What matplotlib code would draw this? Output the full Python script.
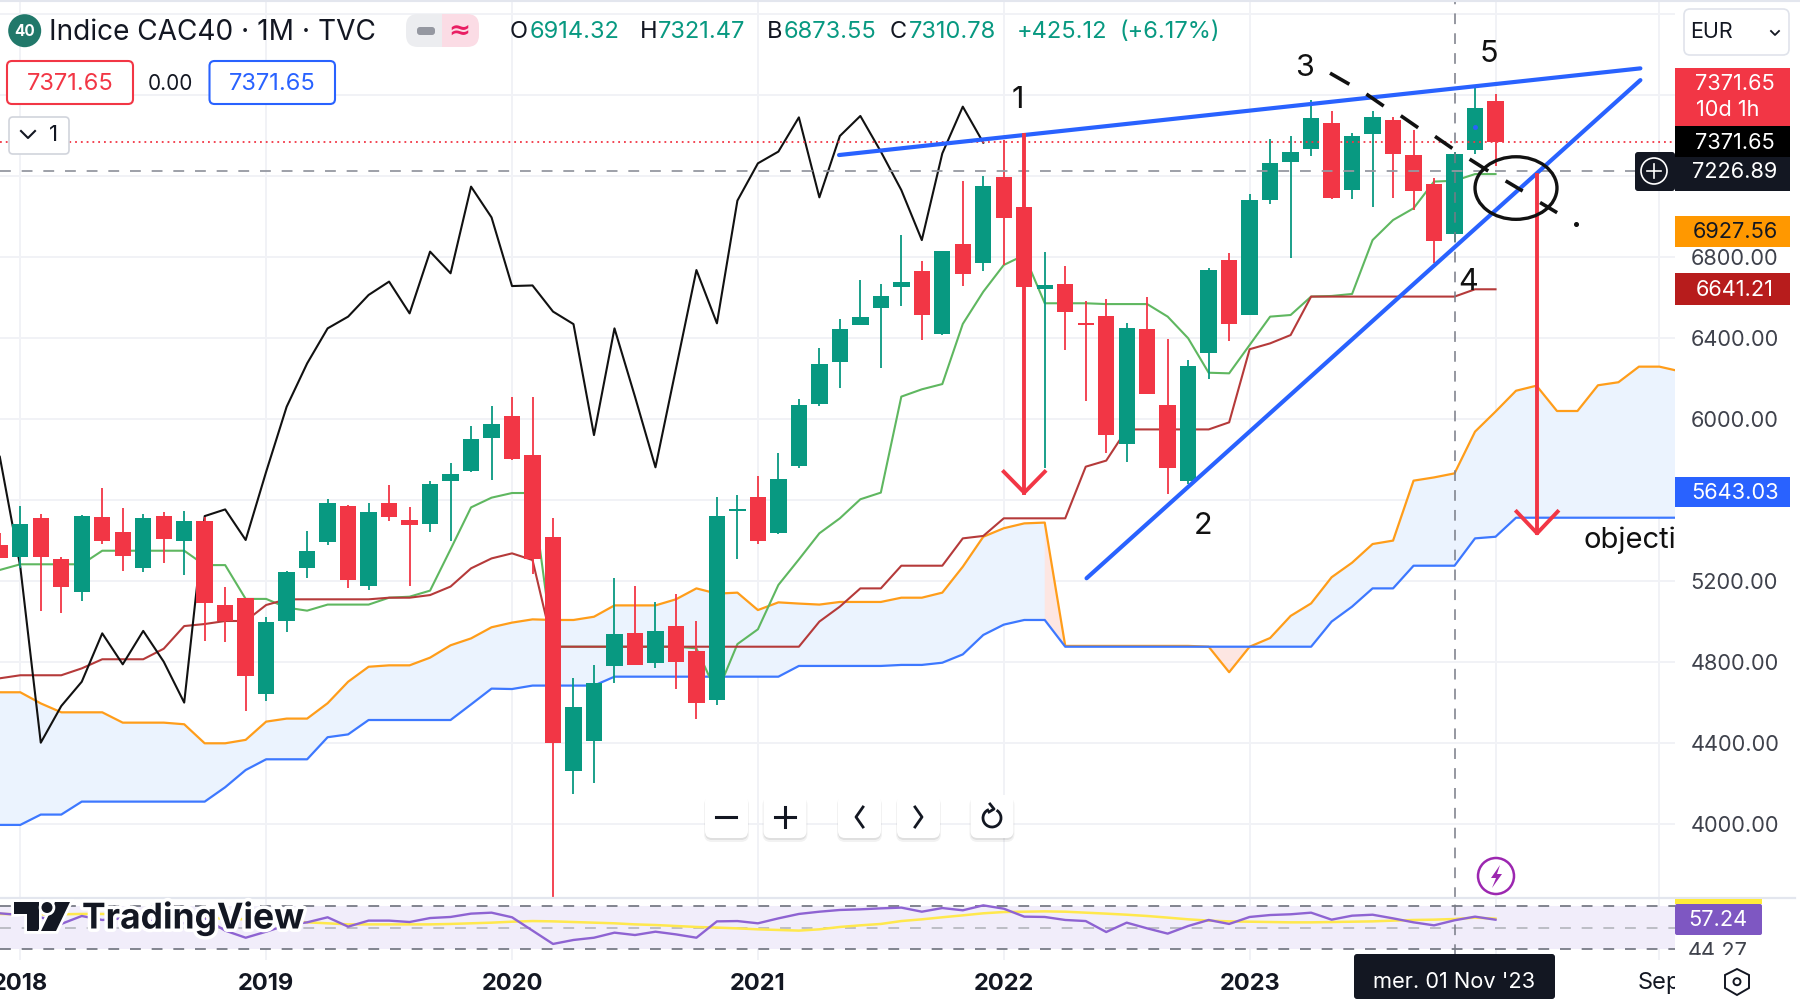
import numpy as np
import matplotlib
matplotlib.use('Agg')
import matplotlib.pyplot as plt
from matplotlib.patches import Ellipse, FancyBboxPatch, Rectangle, Circle, Polygon, Arc
import matplotlib.patheffects as pe

plt.rcParams['font.family'] = ['Inter', 'DejaVu Sans']

# months counted from jan 2018, first visible candle is dec 2017
first_month = -1
opens = [5379, 5322, 5511, 5310, 5147, 5516, 5442, 5266, 5521, 5397, 5498, 5081, 5118, 4644, 5006, 5266, 5394, 5570, 5175,
         5585, 5503, 5481, 5695, 5746, 5906, 6014, 5823, 5420, 4263, 4413, 4780, 4943, 4798, 4979, 4856, 4616, 5546, 5616,
         5440, 5770, 6076, 6281, 6464, 6548, 6653, 6734, 6420, 6866, 6772, 7195, 7048, 6644, 6670, 6474, 6508, 5876, 6444,
         6069, 5697, 6327, 6785, 6515, 7083, 7272, 7335, 7462, 7134, 7409, 7476, 7305, 7160, 6914.32, 7330, 7570]
highs = [5437, 5572, 5531, 5318, 5527, 5659, 5564, 5531, 5544, 5549, 5519, 5174, 5118, 5022, 5253, 5447, 5605, 5577, 5585,
         5676, 5565, 5697, 5783, 5969, 6065, 6112, 6112, 5511, 4724, 4787, 5218, 5177, 5100, 5136, 5004, 5616, 5626, 5722,
         5835, 6099, 6354, 6495, 6688, 6668, 6912, 6783, 6830, 7177, 7200, 7379, 7200, 6825, 6757, 6583, 6592, 6474, 6606,
         6395, 6293, 6746, 6823, 7114, 7383, 7397, 7577, 7521, 7415, 7521, 7491, 7430, 7190, 7321.47, 7634, 7605]
lows = [5314, 5264, 5055, 5042, 5103, 5384, 5251, 5246, 5292, 5230, 4904, 4899, 4560, 4611, 4950, 5215, 5378, 5165, 5155,
        5498, 5175, 5443, 5397, 5741, 5700, 5800, 5236, 3643, 4148, 4202, 4696, 4785, 4770, 4670, 4518, 4588, 5312, 5384,
        5434, 5758, 6067, 6153, 6464, 6255, 6561, 6392, 6415, 6658, 6731, 6762, 6500, 5761, 6342, 6090, 5832, 5788, 6124,
        5630, 5680, 6197, 6387, 6515, 7062, 6795, 7300, 7086, 7088, 7050, 7093, 7034, 6770, 6873.55, 7310, 7250]
closes = [5314, 5483, 5322, 5170, 5521, 5397, 5327, 5511, 5407, 5498, 5091, 5002, 4734, 4999, 5246, 5351, 5588, 5206, 5544,
          5519, 5480, 5681, 5732, 5904, 5977, 5804, 5312, 4400, 4578, 4700, 4938, 4785, 4953, 4803, 4597, 5521, 5555, 5399,
          5704, 6069, 6271, 6446, 6503, 6611, 6680, 6515, 6830, 6718, 7150, 6992, 6653, 6662, 6530, 6464, 5923, 6449, 6124,
          5761, 6265, 6739, 6469, 7081, 7264, 7318, 7490, 7093, 7397, 7495, 7312, 7129, 6882, 7310.78, 7539, 7368]

conversion = [5256, 5284, 5284, 5284, 5284, 5351, 5351, 5351, 5351, 5351, 5280, 5280, 5113, 5113, 5070, 5055, 5085, 5085, 5085,
              5119, 5124, 5154, 5358, 5565, 5613, 5636, 5636, 4877, 4877, 4877, 4877, 4877, 4877, 4877, 4869, 4647, 4890, 4963,
              5182, 5308, 5437, 5511, 5605, 5638, 6112, 6148, 6174, 6471, 6630, 6762, 6811, 6573, 6573, 6573, 6569, 6569, 6569,
              6507, 6400, 6230, 6227, 6367, 6507, 6515, 6606, 6609, 6619, 6885, 6984, 7042, 7174, 7178, 7211, 7211]
baseline = [4721, 4736, 4736, 4736, 4770, 4815, 4815, 4815, 4867, 4979, 4989, 5004, 5004, 5083, 5111, 5111, 5111, 5111, 5111,
            5119, 5119, 5132, 5174, 5264, 5313, 5338, 5305, 4877, 4877, 4877, 4877, 4877, 4877, 4877, 4877, 4877, 4877, 4877,
            4877, 4877, 5001, 5075, 5165, 5165, 5277, 5277, 5277, 5412, 5424, 5511, 5511, 5511, 5511, 5766, 5796, 5950, 5950,
            5950, 5950, 5950, 5985, 6346, 6375, 6416, 6606, 6606, 6606, 6606, 6606, 6606, 6606, 6606, 6642, 6642]
lagging = [5815, 5272, 4403, 4584, 4704, 4943, 4790, 4955, 4803, 4601, 5522, 5555, 5404, 5741, 6062, 6276, 6449, 6507, 6614,
           6680, 6523, 6828, 6721, 7149, 6997, 6658, 6661, 6532, 6470, 5922, 6449, 6112, 5763, 6250, 6737, 6474, 7080, 7264,
           7322, 7491, 7096, 7399, 7498, 7322, 7132, 6885, 7313, 7544, 7366]
lead_a = [4652, 4652, 4597, 4553, 4553, 4553, 4502, 4502, 4502, 4494, 4400, 4400, 4417, 4507, 4522, 4522, 4598, 4704, 4778,
          4785, 4785, 4823, 4884, 4918, 4973, 4996, 5012, 5009, 5009, 5025, 5081, 5081, 5081, 5111, 5165, 5139, 5144, 5058,
          5096, 5090, 5085, 5098, 5098, 5098, 5119, 5119, 5144, 5272, 5420, 5462, 5486, 5490, 4881, 4881, 4881, 4881, 4881,
          4881, 4881, 4877, 4751, 4877, 4920, 5029, 5091, 5220, 5292, 5384, 5401, 5697, 5713, 5733, 5939, 6038, 6141, 6166,
          6041, 6041, 6168, 6183, 6260, 6260, 6237]
lead_b = [3997, 3997, 4048, 4048, 4112, 4112, 4112, 4112, 4112, 4112, 4112, 4183, 4268, 4321, 4321, 4321, 4430, 4444, 4515,
          4515, 4515, 4515, 4515, 4592, 4670, 4668, 4685, 4685, 4685, 4685, 4729, 4729, 4729, 4729, 4729, 4729, 4729, 4729,
          4729, 4782, 4782, 4782, 4782, 4782, 4787, 4787, 4798, 4839, 4935, 4986, 5009, 5009, 4877, 4877, 4877, 4877, 4877,
          4877, 4877, 4877, 4877, 4877, 4877, 4877, 4877, 5001, 5075, 5165, 5165, 5277, 5277, 5277, 5412, 5420, 5514, 5514,
          5514, 5514, 5514, 5514, 5514, 5514, 5514]

rsi = [63.2, 61.6, 59.5, 53.3, 60.7, 57.0, 58.5, 55.4, 57.0, 53.9, 58.5, 47.1, 40.5, 46.1, 52.3, 54.8, 59.5, 50.8, 56.4,
       56.4, 55.1, 58.8, 59.8, 62.9, 63.8, 59.5, 47.1, 34.7, 38.4, 40.5, 45.2, 43.0, 46.1, 43.6, 40.5, 55.7, 56.0, 53.9,
       58.5, 62.6, 64.7, 66.3, 66.9, 67.8, 68.5, 64.7, 68.1, 66.0, 70.6, 67.5, 60.1, 59.8, 57.0, 56.0, 45.8, 54.5, 49.2,
       44.3, 51.4, 57.0, 53.3, 59.8, 61.6, 62.3, 63.8, 57.3, 61.0, 61.9, 58.5, 54.8, 52.0, 56.7, 60.1, 57.24]
rsi_ma = [62.6, 62.3, 62.3, 62.3, 62.6, 62.6, 61.9, 61.3, 60.7, 60.1, 59.2, 58.2, 57.6, 57.0, 56.0, 54.8, 53.9, 52.9, 52.9,
          52.9, 52.9, 52.9, 53.3, 53.9, 54.5, 55.4, 56.0, 55.7, 55.1, 54.5, 53.9, 52.9, 52.3, 51.4, 50.5, 49.9, 49.2, 48.3,
          47.7, 47.1, 48.3, 50.5, 52.0, 53.3, 56.0, 57.6, 59.5, 61.3, 63.2, 64.4, 64.7, 65.0, 64.7, 63.8, 62.9, 61.9, 60.7,
          59.2, 57.6, 56.4, 55.7, 55.4, 55.1, 54.8, 54.8, 55.1, 55.4, 55.7, 56.4, 57.0, 57.3, 57.9, 59.2, 58.2]

price_grid = [4000, 4400, 4800, 5200, 5600, 6000, 6400, 6800, 7200, 7600, 8000]
price_labels = ['4000.00', '4400.00', '4800.00', '5200.00', '', '6000.00', '6400.00', '6800.00', '', '', '']
time_ticks = [0, 12, 24, 36, 48, 60, 72, 80]
time_labels = ['2018', '2019', '2020', '2021', '2022', '2023', '', 'Sep']

# drawings on the chart
top_line_x = [39.96, 79.07]
top_line_y = [7305, 7733]
low_line_x = [52.04, 79.07]
low_line_y = [5215, 7675]
arrow1_x, arrow1_top, arrow1_bottom, arrow1_head = 49.0, 7404, 5638, 5741
arrow2_x, arrow2_top, arrow2_bottom, arrow2_head = 74.03, 7206, 5437, 5544
dash_x = [64.0, 64.79, np.nan, 65.77, 66.47, np.nan, 67.45, 68.15, np.nan, 69.12, 69.82, np.nan, 70.81, 71.57, np.nan, 72.57, 73.25, np.nan, 74.25, 74.93]
dash_y = [7705, 7659, np.nan, 7601, 7552, np.nan, 7494, 7445, np.nan, 7392, 7343, np.nan, 7280, 7231, np.nan, 7173, 7132, np.nan, 7066, 7025]
wave_labels = ['1', '2', '3', '4', '5']
wave_x = [48.68, 57.7, 62.7, 70.66, 71.68]
wave_y = [7576, 5473, 7734, 6678, 7805]

GREEN = '#089981'
RED = '#f23645'
BLUE = '#2962ff'
DARK = '#131722'
TICK = '#3f424c'
GRID = '#f1f2f6'

W, H = 1800, 1002
PLOT_R = 1675
PANE_Y = 898
RSI_Y = 960


def py(p):
    # price to pixel row, same scale as the main axes
    return 257.3 + (6800 - p) * 0.2025


fig = plt.figure(figsize=(W / 100, H / 100), dpi=100, facecolor='white')
ax = fig.add_axes([0, (H - PANE_Y) / H, PLOT_R / W, PANE_Y / H])
ax_rsi = fig.add_axes([0, (H - RSI_Y) / H, PLOT_R / W, (RSI_Y - PANE_Y) / H])

x_candles = np.arange(len(opens)) + first_month
x_lagging = np.arange(len(lagging)) + first_month
x_lead = np.arange(len(lead_a)) + first_month
a = np.array(lead_a)
b = np.array(lead_b)

ax.set_xlim(-0.99, 80.76)
ax.set_ylim(6800 - (PANE_Y - 257.3) / 0.2025, 6800 + 257.3 / 0.2025)

pink = ((x_lead >= 50) & (x_lead <= 51)) | ((x_lead >= 58) & (x_lead <= 60))
ax.fill_between(x_lead, a, b, where=~pink | (x_lead == 51) | (x_lead == 58) | (x_lead == 50) | (x_lead == 60), color='#ebf3fe', lw=0, zorder=1)
ax.fill_between(x_lead, a, b, where=pink, color='#fde6e2', lw=0, zorder=1.1)
ax.plot(x_lead, a, color='#ff9d1a', lw=1.6, zorder=2)
ax.plot(x_lead, b, color='#3d78ff', lw=1.6, zorder=2.1)
ax.plot(x_candles, conversion, color='#5fb760', lw=1.5, zorder=2.2)
ax.plot(x_candles, baseline, color='#b53a3a', lw=1.5, zorder=2.3)
ax.plot(x_lagging, lagging, color='#111111', lw=1.5, zorder=2.4)

colors = [GREEN if c >= o else RED for o, c in zip(opens, closes)]
ax.vlines(x_candles, lows, highs, colors=colors, lw=1.3, zorder=3)
ax.bar(x_candles, np.abs(np.array(closes) - np.array(opens)), bottom=np.minimum(opens, closes), width=0.8, color=colors, lw=0, zorder=3.1)
ax.plot(71, 7445, 'o', color=BLUE, ms=2.5, zorder=3.2)

ax.axhline(7371.65, color=RED, lw=1.3, ls=(0, (1, 2.2)), zorder=4)
ax.axhline(7226.89, color='#9598a1', lw=1.3, ls=(0, (6, 6)), zorder=4)
ax.axvline(70, color='#787b86', lw=1.1, ls=(0, (7, 6)), zorder=4)

ax.plot(top_line_x, top_line_y, color=BLUE, lw=3, solid_capstyle='round', zorder=5)
ax.plot(low_line_x, low_line_y, color=BLUE, lw=3, solid_capstyle='round', zorder=5)
for ax_x, ay_top, ay_bot, ay_head in [(arrow1_x, arrow1_top, arrow1_bottom, arrow1_head), (arrow2_x, arrow2_top, arrow2_bottom, arrow2_head)]:
    ax.plot([ax_x, ax_x], [ay_top, ay_bot], color=RED, lw=2.8, zorder=5)
    ax.plot([ax_x - 1, ax_x, ax_x + 1], [ay_head, ay_bot, ay_head], color=RED, lw=2.8, zorder=5)
ax.plot(dash_x, dash_y, color='#111111', lw=2.6, zorder=5.1)
ax.plot(75.93, 6964, 'o', color='#111111', ms=2.6, zorder=5.1)
ax.add_patch(Ellipse((73, 7142), 4.0, 309, fc='none', ec='#111111', lw=2.4, zorder=5.2))
for label, x, y in zip(wave_labels, wave_x, wave_y):
    ax.text(x, y, label, fontsize=22, color='#111111', ha='center', va='center', zorder=6)
ax.text(76.27, 5402, 'objectif', fontsize=21, color='#111111', ha='left', va='center', zorder=6, clip_on=True)

ax.set_yticks(price_grid)
ax.set_yticklabels(price_labels)
ax.yaxis.tick_right()
ax.set_xticks(time_ticks)
ax.set_xticklabels([])
ax.tick_params(axis='y', length=0, pad=11, labelsize=15.7, labelcolor=TICK)
ax.tick_params(axis='x', length=0)
ax.grid(True, color=GRID, lw=1.4)
ax.set_axisbelow(True)
for s in ax.spines.values():
    s.set_visible(False)
for t in ax.get_yticklabels():
    t.set_ha('left')
    t.set_va('center_baseline')

# rsi pane
ax_rsi.set_xlim(ax.get_xlim())
ax_rsi.set_ylim(70 - (RSI_Y - 906) / 1.075, 70 + 8 / 1.075)
ax_rsi.axhspan(30, 70, color='#f1edfa', lw=0, zorder=1)
ax_rsi.axhline(70, color='#787b86', lw=1.3, ls=(0, (6, 6)), zorder=2)
ax_rsi.axhline(50, color='#b8bac1', lw=1.3, ls=(0, (6, 6)), zorder=2)
ax_rsi.axhline(30, color='#787b86', lw=1.3, ls=(0, (6, 6)), zorder=2)
ax_rsi.plot(x_candles, rsi_ma, color='#ffe84d', lw=1.8, zorder=3)
ax_rsi.plot(x_candles, rsi, color='#8e63d2', lw=1.7, zorder=3.1)
ax_rsi.axvline(70, ymin=0.08, color='#787b86', lw=1.1, ls=(0, (7, 6)), zorder=4)
ax_rsi.set_yticks([])
ax_rsi.set_xticks(time_ticks)
ax_rsi.set_xticklabels(time_labels, fontsize=17, color=DARK, fontweight='bold')
ax_rsi.get_xticklabels()[-1].set_fontweight('normal')
ax_rsi.tick_params(axis='x', length=0, pad=9)
ax_rsi.grid(True, axis='x', color=GRID, lw=1.4)
ax_rsi.set_axisbelow(True)
for s in ax_rsi.spines.values():
    s.set_visible(False)

# everything around the chart, in pixels
ov = fig.add_axes([0, 0, 1, 1], zorder=10)
ov.set_xlim(0, W)
ov.set_ylim(H, 0)
ov.axis('off')
ov.patch.set_alpha(0)


def box(x0, y0, x1, y1, fc='white', ec='none', lw=0, r=4, z=1, **kw):
    p = FancyBboxPatch((x0 + r, y0 + r), x1 - x0 - 2 * r, y1 - y0 - 2 * r, boxstyle='round,pad=%g,rounding_size=%g' % (r, r),
                       fc=fc, ec=ec, lw=lw, zorder=z, **kw)
    ov.add_patch(p)
    return p


def txt(x, y, s, size=15.7, color=DARK, ha='center', z=5, **kw):
    # inter sits a bit high with va center
    return ov.text(x, y + 2, s, fontsize=size, color=color, ha=ha, va='center', zorder=z, **kw)


ov.plot([0, W], [1, 1], color='#e3e6ee', lw=1.5)
ov.plot([0, W - 5], [PANE_Y, PANE_Y], color='#e3e6ee', lw=1.6, zorder=0.5)

# header
ov.add_patch(Circle((24.7, 30.7), 16.5, fc='#21786a', ec='none', zorder=2))
txt(24.7, 29.5, '40', size=11, color='white', fontweight='bold')
txt(49, 30, 'Indice CAC40 · 1M · TVC', size=20.2, ha='left')
box(406, 14, 450, 47, fc='#ecedf0', r=12, z=2)
box(440, 14, 479, 47, fc='#fbdce5', r=12, z=2)
ov.add_patch(Rectangle((442, 14), 10, 33, fc='#fbdce5', ec='none', zorder=2.1))
ov.add_patch(Rectangle((432, 14), 10, 33, fc='#ecedf0', ec='none', zorder=2.1))
box(417, 27, 435, 35, fc='#9598a1', r=3, z=3)
txt(459, 29, '≈', size=19, color='#e91e63', fontweight='bold', family='DejaVu Sans')
ohlc_x = [510, 530, 640, 658, 767, 784, 890, 909, 1017, 1120]
ohlc_s = ['O', '6914.32', 'H', '7321.47', 'B', '6873.55', 'C', '7310.78', '+425.12', '(+6.17%)']
for x, s in zip(ohlc_x, ohlc_s):
    txt(x, 30, s, size=17, ha='left', color=DARK if len(s) == 1 else GREEN)

box(7, 61, 133, 104, ec=RED, lw=1.5, r=5)
txt(70, 81.5, '7371.65', size=17, color=RED)
txt(170, 81.5, '0.00', size=15, color=DARK)
box(209.5, 61, 335, 104, ec=BLUE, lw=1.5, r=5)
txt(272, 81.5, '7371.65', size=17, color=BLUE)
box(9, 117, 69, 154, ec='#d1d4dc', lw=1.2, r=4)
ov.plot([21, 28, 35], [131, 138, 131], color=DARK, lw=1.5)
txt(53, 133, '1', size=16)

# currency
box(1684, 9, 1789, 55, ec='#e0e3eb', lw=1.2, r=6)
txt(1690, 30, 'EUR', size=15.5, ha='left')
ov.plot([1771, 1775, 1779], [31, 35, 31], color=DARK, lw=1.3)

# price scale labels
ov.add_patch(Rectangle((PLOT_R, 68), 115, 58, fc=RED, ec='none', zorder=2))
txt(1735, 82, '%.2f' % 7371.65, color='white')
txt(1728, 108, '10d 1h', color='white')
ov.add_patch(Rectangle((PLOT_R, 126), 115, 31, fc='#000000', ec='none', zorder=2))
txt(1735, py(7371.65) - 1, '%.2f' % 7371.65, color='white')
ov.add_patch(Rectangle((PLOT_R, 157), 115, 34, fc=DARK, ec='none', zorder=2))
txt(1735, py(7226.89) - 1, '%.2f' % 7226.89, color='white')
box(1635, 152, 1675, 191, fc=DARK, r=3, z=2)
ov.add_patch(Circle((1654, 171), 13, fc='none', ec='white', lw=1.2, zorder=3))
ov.plot([1654, 1654], [164, 178], color='white', lw=1.2, zorder=3)
ov.plot([1647, 1661], [171, 171], color='white', lw=1.2, zorder=3)
ov.add_patch(Rectangle((PLOT_R, py(6927.56) - 15.5), 115, 31, fc='#ff9800', ec='none', zorder=2))
txt(1735, py(6927.56) - 1, '%.2f' % 6927.56, color=DARK)
ov.add_patch(Rectangle((PLOT_R, py(6641.21) - 16), 115, 32, fc='#b71c1c', ec='none', zorder=2))
txt(1735, py(6641.21) - 1, '%.2f' % 6641.21, color='white')
ov.add_patch(Rectangle((PLOT_R, py(5643.03) - 15), 115, 30, fc=BLUE, ec='none', zorder=2))
txt(1735, py(5643.03) - 1, '%.2f' % 5643.03, color='white')

# rsi labels
ov.add_patch(Rectangle((PLOT_R, 899), 87, 5, fc='#ffeb3b', ec='none', zorder=2))
box(PLOT_R, 904, 1762, 935, fc='#7e57c2', r=2, z=2)
txt(1718, 918, '57.24', color='white')
txt(1718, 950, '44.27', color=TICK, z=2)
ov.add_patch(Rectangle((PLOT_R, 955), 125, 47, fc='white', ec='none', zorder=3))

# chart buttons
for x0, x1 in [(705, 748), (763.5, 806.5), (838, 881), (897, 940), (970.5, 1013.5)]:
    box(x0 - 1, 797, x1 + 1, 842, fc='#000000', r=8, z=1.4, alpha=0.05)
    box(x0, 797, x1, 840, fc='#000000', r=7, z=1.5, alpha=0.08)
    box(x0, 795, x1, 838, fc='white', r=7, z=2)
ov.plot([716, 736], [817, 817], color=DARK, lw=2.2, zorder=3)
ov.plot([775, 795], [817, 817], color=DARK, lw=2.2, zorder=3)
ov.plot([785, 785], [807, 827], color=DARK, lw=2.2, zorder=3)
ov.plot([863, 856, 863], [807, 817, 827], color=DARK, lw=2, zorder=3)
ov.plot([915, 922, 915], [807, 817, 827], color=DARK, lw=2, zorder=3)
ov.add_patch(Arc((992, 818), 18, 18, theta1=-60, theta2=250, ec=DARK, lw=2, zorder=3))
ov.plot([990, 994, 989], [804, 809, 812], color=DARK, lw=2, zorder=3)

# logo
halo = [pe.withStroke(linewidth=5, foreground='white')]
logo_parts = [Polygon([(14, 902), (39, 902), (39, 931), (27, 931), (27, 914), (14, 914)], closed=True),
              Polygon([(55, 902), (70, 902), (56, 931), (41, 931)], closed=True),
              Circle((47, 907.5), 5.5)]
for part in logo_parts:
    part.set(fc=DARK, ec='none', zorder=6, path_effects=[pe.withStroke(linewidth=4, foreground='white')])
    ov.add_patch(part)
txt(82, 916, 'TradingView', size=25.5, ha='left', fontweight='bold', z=6, path_effects=halo)

# event mark
ov.add_patch(Circle((1496, 876), 18, fc='white', ec='#9c27b0', lw=1.8, zorder=3))
ov.add_patch(Polygon([(1500, 865), (1491, 878), (1496, 878), (1492, 888), (1502, 874), (1497, 874)], closed=True, fc='#9c27b0', ec='none', zorder=4))

# date under the crosshair
box(1354, 954, 1555, 999, fc=DARK, r=3, z=3)
txt(1454.5, 980, "mer. 01 Nov '23", color='white')

# settings icon
ov.add_patch(Polygon([(1737, 969), (1749, 975), (1749, 988), (1737, 995), (1725, 988), (1725, 975)], closed=True, fc='none', ec=DARK, lw=1.4, zorder=3))
ov.add_patch(Circle((1737, 981.7), 3.5, fc='none', ec=DARK, lw=1.4, zorder=3))

fig.savefig('out.png', dpi=100)
